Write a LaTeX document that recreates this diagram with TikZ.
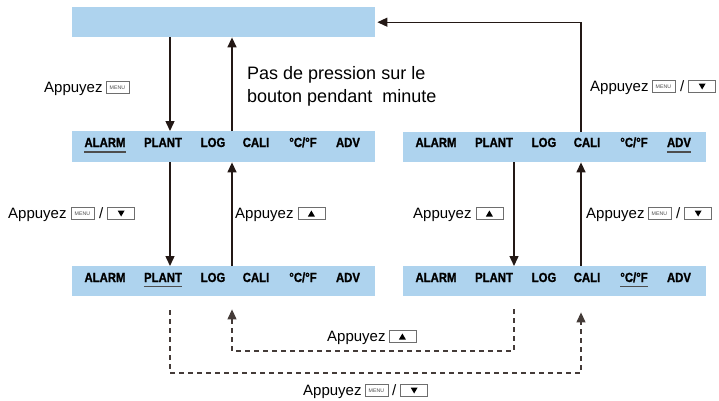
\documentclass[tikz,border=0pt]{standalone}
\usepackage{fontspec}
\setmainfont{Liberation Sans}
\newfontfamily\lblfont[FakeStretch=0.86,FakeBold=1.2]{Liberation Sans Bold}
\usetikzlibrary{arrows.meta}
\definecolor{boxblue}{HTML}{AED3EE}
\definecolor{ink}{HTML}{231815}
\definecolor{keygray}{HTML}{6E6E6E}
\definecolor{ulgray}{HTML}{4D4D4D}
\newcommand{\kMenu}{\tikz[baseline=0pt]{\draw[keygray,line width=0.6pt,fill=white] (0pt,-1.5pt) rectangle (23pt,10.5pt); \node[anchor=center,inner sep=0pt,text=black!70,font=\fontsize{5.2}{6}\selectfont] at (11.5pt,4.5pt) {MENU};}}
\newcommand{\kDown}{\tikz[baseline=0pt]{\draw[keygray,line width=0.6pt,fill=white] (0pt,-1.5pt) rectangle (27pt,10.5pt); \fill[black] (10pt,7.5pt) -- (17pt,7.5pt) -- (13.5pt,1.5pt) -- cycle;}}
\newcommand{\kUp}{\tikz[baseline=0pt]{\draw[keygray,line width=0.6pt,fill=white] (0pt,-1.5pt) rectangle (27pt,10.5pt); \fill[black] (10pt,1.5pt) -- (17pt,1.5pt) -- (13.5pt,7.5pt) -- cycle;}}
\begin{document}
\begin{tikzpicture}[x=1pt,y=-1pt,
 panel/.style={draw=none,fill=boxblue,minimum width=303pt,minimum height=30pt,inner sep=0pt,anchor=north west},
 lbl/.style={font=\lblfont\fontsize{13.2}{13}\selectfont,inner sep=0pt,anchor=base,text=black},
 txt/.style={font=\fontsize{15}{18}\selectfont,inner sep=0pt,anchor=base west,text=black},
 big/.style={font=\fontsize{18}{22}\selectfont,inner sep=0pt,anchor=base west,text=black},
 arr/.style={draw=ink,line width=1.4pt,-{Triangle[length=10pt,width=9pt]}},
 dsh/.style={draw=ink!85,line width=1.2pt,dash pattern=on 5pt off 4pt,-{Triangle[length=10pt,width=9pt]}},
 ul/.style={draw=ulgray,line width=1.5pt}]
\useasboundingbox (0,0) rectangle (719,400);
% panels
\node[panel] (top) at (72,7) {};
\node[panel,minimum height=31pt] (lt) at (72,131) {};
\node[panel] (rt) at (403,132) {};
\node[panel] (lb) at (72,266) {};
\node[panel] (rb) at (403,266) {};
% labels in panels
\foreach \r/\dx/\by in {lt/0/147, rt/331/147, lb/0/282, rb/331/282} {
  \node[lbl] (\r-alarm) at (105+\dx,\by) {ALARM};
  \node[lbl] (\r-plant) at (163+\dx,\by) {PLANT};
  \node[lbl] (\r-log) at (213+\dx,\by) {LOG};
  \node[lbl] (\r-cali) at (256+\dx,\by) {CALI};
  \node[lbl] (\r-cf) at (303+\dx,\by) {°C/°F};
  \node[lbl] (\r-adv) at (348+\dx,\by) {ADV};
}
% underlines
\draw[ul] ([yshift=-5pt]lt-alarm.base west) -- ([yshift=-5pt]lt-alarm.base east);
\draw[ul] ([yshift=-5pt]rt-adv.base west) -- ([yshift=-5pt]rt-adv.base east);
\draw[ul] ([yshift=-4.5pt]lb-plant.base west) -- ([yshift=-4.5pt]lb-plant.base east);
\draw[ul] ([yshift=-4.5pt]rb-cf.base west) -- ([yshift=-4.5pt]rb-cf.base east);
% columns
\coordinate (cL1) at (170,0);
\coordinate (cL2) at (232,0);
\coordinate (cR1) at (514,0);
\coordinate (cR2) at (581,0);
% solid arrows
\draw[arr] (top.south -| cL1) -- (lt.north -| cL1);
\draw[arr] (lt.north -| cL2) -- (top.south -| cL2);
\draw[arr] (lt.south -| cL1) -- (lb.north -| cL1);
\draw[arr] (lb.north -| cL2) -- (lt.south -| cL2);
\draw[arr] (rt.south -| cR1) -- (rb.north -| cR1);
\draw[arr] (rb.north -| cR2) -- (rt.south -| cR2);
\draw[arr,shorten >=2pt] (rt.north -| cR2) |- (top.east);
% dashed arrows
\coordinate (ob) at (581,373);
\coordinate (ib) at (232,351);
\draw[dsh,shorten >=16pt] (lb.south -| cL1) ++(0,14) |- (ob) -- (rb.south -| cR2);
\draw[dsh,shorten >=13pt] (rb.south -| cR1) ++(0,13) |- (ib) -- (lb.south -| cL2);
% texts
\node[txt] (a1) at (44,92) {Appuyez\hspace{3pt}\kMenu};
\node[big] (p1) at (247,79) {Pas de pression sur le};
\node[big] (p2) at (247,102) {bouton pendant\ \ minute};
\node[txt] (a2) at (8,218) {Appuyez\hspace{4pt}\kMenu\hspace{5pt}/\hspace{4pt}\kDown};
\node[txt] (a3) at (235,218) {Appuyez\hspace{4pt}\kUp};
\node[txt] (a4) at (413,218) {Appuyez\hspace{4pt}\kUp};
\node[txt] (a5) at (586,218) {Appuyez\hspace{3pt}\kMenu\hspace{5pt}/\hspace{4pt}\kDown};
\node[txt] (a6) at (590,91) {Appuyez\hspace{3pt}\kMenu\hspace{5pt}/\hspace{4pt}\kDown};
\node[txt] (a7) at (327,341) {Appuyez\hspace{3pt}\kUp};
\node[txt] (a8) at (303,395) {Appuyez\hspace{3pt}\kMenu\hspace{4pt}/\hspace{4pt}\kDown};
\end{tikzpicture}
\end{document}
